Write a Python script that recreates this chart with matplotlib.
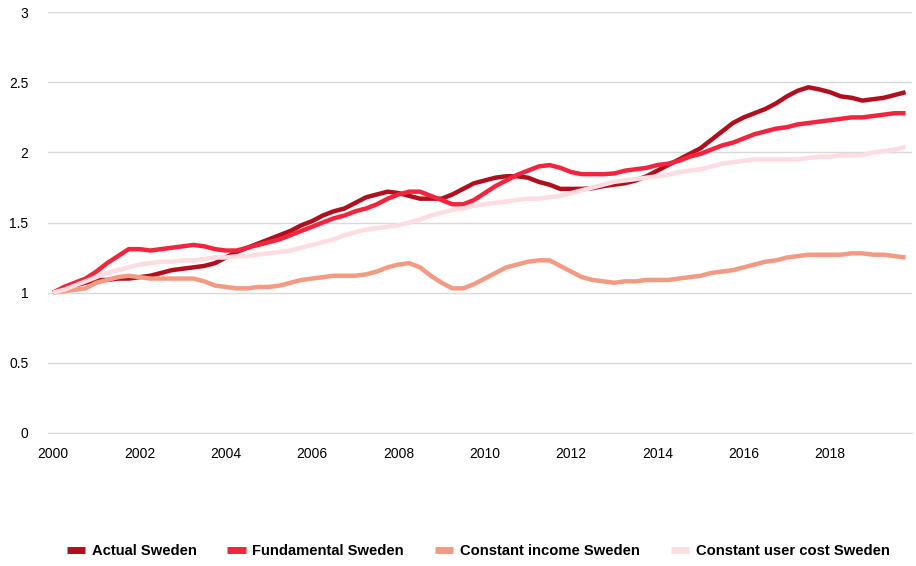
import numpy as np
import matplotlib
matplotlib.use('Agg')
import matplotlib.pyplot as plt

plt.rcParams['font.family'] = ['Liberation Sans', 'DejaVu Sans']

# quarterly, 2000Q1 .. 2019Q4
years = 2000 + np.arange(80) / 4.0

actual = [1.00, 1.03, 1.05, 1.07, 1.09, 1.09, 1.10, 1.10,
          1.11, 1.12, 1.14, 1.16, 1.17, 1.18, 1.19, 1.21,
          1.25, 1.29, 1.32, 1.35, 1.38, 1.41, 1.44, 1.48,
          1.51, 1.55, 1.58, 1.60, 1.64, 1.68, 1.70, 1.72,
          1.71, 1.69, 1.67, 1.67, 1.67, 1.70, 1.74, 1.78,
          1.80, 1.82, 1.83, 1.83, 1.82, 1.79, 1.77, 1.74,
          1.74, 1.74, 1.745, 1.76, 1.77, 1.78, 1.80, 1.83,
          1.87, 1.91, 1.95, 1.99, 2.03, 2.09, 2.15, 2.21,
          2.25, 2.28, 2.31, 2.35, 2.40, 2.44, 2.465, 2.45,
          2.43, 2.40, 2.39, 2.37, 2.38, 2.39, 2.41, 2.43]

fundamental = [1.00, 1.04, 1.07, 1.10, 1.15, 1.21, 1.26, 1.31,
               1.31, 1.30, 1.31, 1.32, 1.33, 1.34, 1.33, 1.31,
               1.30, 1.30, 1.32, 1.34, 1.36, 1.38, 1.41, 1.44,
               1.47, 1.50, 1.53, 1.55, 1.58, 1.60, 1.63, 1.67,
               1.70, 1.72, 1.72, 1.69, 1.66, 1.63, 1.63, 1.66,
               1.71, 1.76, 1.80, 1.84, 1.87, 1.90, 1.91, 1.89,
               1.86, 1.845, 1.845, 1.845, 1.85, 1.87, 1.88, 1.89,
               1.91, 1.92, 1.94, 1.97, 1.99, 2.02, 2.05, 2.07,
               2.10, 2.13, 2.15, 2.17, 2.18, 2.20, 2.21, 2.22,
               2.23, 2.24, 2.25, 2.25, 2.26, 2.27, 2.28, 2.28]

const_income = [1.00, 1.01, 1.02, 1.03, 1.07, 1.09, 1.11, 1.12,
                1.11, 1.10, 1.10, 1.10, 1.10, 1.10, 1.08, 1.05,
                1.04, 1.03, 1.03, 1.04, 1.04, 1.05, 1.07, 1.09,
                1.10, 1.11, 1.12, 1.12, 1.12, 1.13, 1.15, 1.18,
                1.20, 1.21, 1.18, 1.12, 1.07, 1.03, 1.03, 1.06,
                1.10, 1.14, 1.18, 1.20, 1.22, 1.23, 1.23, 1.19,
                1.15, 1.11, 1.09, 1.08, 1.07, 1.08, 1.08, 1.09,
                1.09, 1.09, 1.10, 1.11, 1.12, 1.14, 1.15, 1.16,
                1.18, 1.20, 1.22, 1.23, 1.25, 1.26, 1.27, 1.27,
                1.27, 1.27, 1.28, 1.28, 1.27, 1.27, 1.26, 1.25]

const_user_cost = [1.00, 1.02, 1.05, 1.08, 1.11, 1.14, 1.16, 1.18,
                   1.20, 1.21, 1.22, 1.22, 1.23, 1.23, 1.24, 1.25,
                   1.25, 1.26, 1.26, 1.27, 1.28, 1.29, 1.30, 1.32,
                   1.34, 1.36, 1.38, 1.41, 1.43, 1.45, 1.46, 1.47,
                   1.48, 1.50, 1.52, 1.55, 1.57, 1.59, 1.60, 1.62,
                   1.63, 1.64, 1.65, 1.66, 1.67, 1.67, 1.68, 1.69,
                   1.71, 1.73, 1.75, 1.77, 1.79, 1.80, 1.81, 1.82,
                   1.83, 1.84, 1.86, 1.87, 1.88, 1.90, 1.92, 1.93,
                   1.94, 1.95, 1.95, 1.95, 1.95, 1.95, 1.96, 1.97,
                   1.97, 1.98, 1.98, 1.98, 2.00, 2.01, 2.02, 2.04]

labels = ['Actual Sweden', 'Fundamental Sweden', 'Constant income Sweden', 'Constant user cost Sweden']
colors = ['#B10F1E', '#F3253E', '#F29B82', '#FDDCE2']
series = [actual, fundamental, const_income, const_user_cost]

fig = plt.figure(figsize=(9.16, 5.66), dpi=100)
ax = fig.add_axes([48/916, 1 - 432.7/566, (912-48)/916, (432.7-12.3)/566])

for s, lab, c in zip(series, labels, colors):
    ax.plot(years, s, color=c, lw=3.2, label=lab, solid_capstyle='butt')

ax.set_xlim(1999.88, 2019.9)
ax.set_ylim(0, 3)
ax.set_xticks(np.arange(2000, 2019, 2))
ax.set_yticks([0, 0.5, 1, 1.5, 2, 2.5, 3])
ax.set_yticklabels(['0', '0.5', '1', '1.5', '2', '2.5', '3'])
ax.yaxis.grid(True, color='#d9d9d9', lw=1)
ax.set_axisbelow(True)
for sp in ['top', 'right', 'left']:
    ax.spines[sp].set_visible(False)
ax.spines['bottom'].set_color('#d9d9d9')
ax.tick_params(axis='both', length=0, labelsize=10, colors='#000000')
ax.tick_params(axis='y', pad=14)
ax.tick_params(axis='x', pad=10)

leg = fig.legend(loc='center', bbox_to_anchor=(0.522, 0.027), ncol=4, frameon=False,
                 handlelength=1.25, handletextpad=0.45, columnspacing=2.1,
                 prop={'weight': 'bold', 'size': 10.6})
for h in leg.get_lines():
    h.set_linewidth(5)

fig.savefig('out.png', dpi=100)
